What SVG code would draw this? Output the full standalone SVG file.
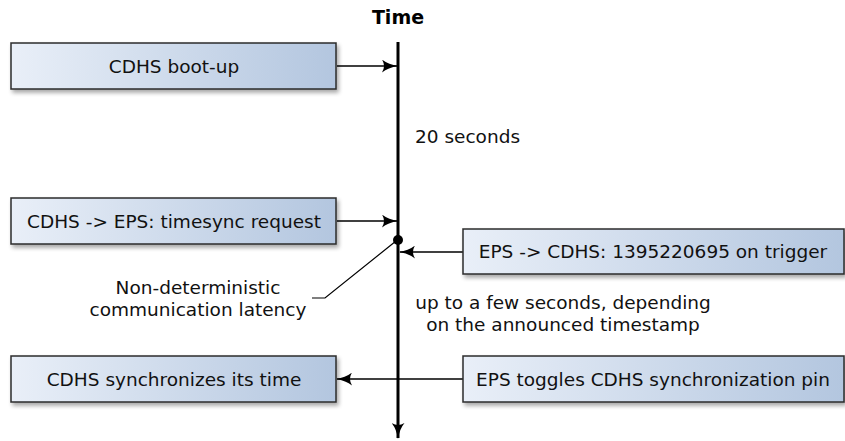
<svg xmlns="http://www.w3.org/2000/svg" width="845" height="441" viewBox="0 0 845 441">
<defs>
<linearGradient id="g" x1="0" y1="0" x2="1" y2="0">
<stop offset="0" stop-color="#e9eff8"/>
<stop offset="1" stop-color="#b3c6df"/>
</linearGradient>
<filter id="sh" x="-5%" y="-20%" width="115%" height="160%">
<feGaussianBlur in="SourceAlpha" stdDeviation="2"/>
<feOffset dx="2" dy="3" result="b"/>
<feComponentTransfer><feFuncA type="linear" slope="0.35"/></feComponentTransfer>
<feMerge><feMergeNode/><feMergeNode in="SourceGraphic"/></feMerge>
</filter>
<marker id="ah" viewBox="0 0 16 13" refX="15" refY="6.5" markerWidth="16" markerHeight="13" markerUnits="userSpaceOnUse" orient="auto">
<path d="M0,0 Q6,5 16,6.5 Q6,8 0,13 Q4,6.5 0,0 Z" fill="#000"/>
</marker>
</defs>
<style>
.box{fill:url(#g);stroke:#2b2b2b;stroke-width:1.5;filter:url(#sh)}
.t{font-family:"DejaVu Sans",sans-serif;font-size:18.5px;fill:#111;text-anchor:middle}
.l{font-family:"DejaVu Sans",sans-serif;font-size:18.5px;fill:#111}
.c{stroke:#000;stroke-width:1.5;fill:none}
</style>
<text x="398" y="24" style="font-family:'DejaVu Sans',sans-serif;font-size:19px;font-weight:bold;text-anchor:middle">Time</text>
<g id="connectors">
<line x1="398" y1="42" x2="398" y2="438" stroke="#000" stroke-width="3" marker-end="url(#ah)"/>
<line class="c" x1="337" y1="66" x2="397" y2="66" marker-end="url(#ah)"/>
<line class="c" x1="337" y1="221" x2="397" y2="221" marker-end="url(#ah)"/>
<line class="c" x1="463" y1="252" x2="400" y2="252" marker-end="url(#ah)"/>
<line class="c" x1="463" y1="379" x2="337" y2="379" marker-end="url(#ah)"/>
<circle cx="398" cy="240" r="5" fill="#000"/>
<polyline class="c" points="312,298 325,298 396,241" style="stroke-width:1.2"/>
</g>
<g id="n1"><rect class="box" x="11" y="43" width="325" height="46"/><text class="t" x="174" y="73">CDHS boot-up</text></g>
<g id="n2"><rect class="box" x="11" y="198" width="325" height="46"/><text class="t" x="174" y="228">CDHS -&gt; EPS: timesync request</text></g>
<g id="n3"><rect class="box" x="463" y="229" width="381" height="45"/><text class="t" x="653" y="258">EPS -&gt; CDHS: 1395220695 on trigger</text></g>
<g id="n4"><rect class="box" x="11" y="356" width="325" height="46"/><text class="t" x="174" y="386">CDHS synchronizes its time</text></g>
<g id="n5"><rect class="box" x="463" y="356" width="381" height="46"/><text class="t" x="653" y="386">EPS toggles CDHS synchronization pin</text></g>
<text class="l" x="415" y="143">20 seconds</text>
<text class="t" x="198" y="294">Non-deterministic</text>
<text class="t" x="198" y="316">communication latency</text>
<text class="t" x="563" y="309">up to a few seconds, depending</text>
<text class="t" x="563" y="331">on the announced timestamp</text>
</svg>
